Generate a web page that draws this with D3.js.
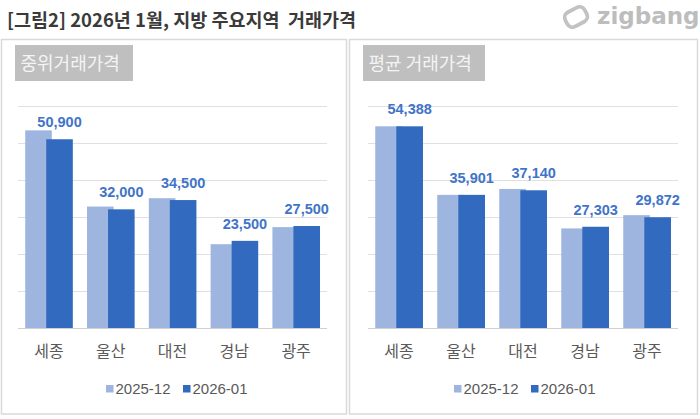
<!DOCTYPE html>
<html><head><meta charset="utf-8">
<script src="https://cdn.jsdelivr.net/npm/d3@7"></script>
<style>body{margin:0;background:#fff;}svg{display:block;}</style>
</head><body>
<svg id="c" width="700" height="419"></svg>
<script>
const categories = ["세종","울산","대전","경남","광주"];
const seriesNames = ["2025-12","2026-01"];
const median2512 = [53300, 32750, 35000, 22600, 27200];
const median2601 = [50900, 32000, 34500, 23500, 27500];
const mean2512 = [54388, 35900, 37500, 26850, 30430];
const mean2601 = [54388, 35901, 37140, 27303, 29872];
const yTicks = [0,10000,20000,30000,40000,50000,60000];
const panelTitles = ["중위거래가격","평균 거래가격"];
const chartTitle = "[그림2] 2026년 1월, 지방 주요지역  거래가격";

const svg = d3.select("#c");
const lightC = "#9DB5DF", darkC = "#316ABF", labelC = "#4174C8";
const korFont = "'Noto Sans CJK KR', 'Noto Sans', sans-serif";

// title
svg.append("text").attr("x",7).attr("y",27).text(chartTitle)
  .style("white-space","pre")
  .attr("font-family",korFont).attr("font-weight","bold").attr("font-size",18.5)
  .attr("fill","#3a3a3a");

// logo
const lg = svg.append("g");
lg.append("rect").attr("x",-11).attr("y",-8).attr("width",22).attr("height",16).attr("rx",6)
  .attr("transform","translate(576,17) rotate(-28)")
  .attr("fill","none").attr("stroke","#c2c2c2").attr("stroke-width",3.8);
lg.append("text").attr("x",597).attr("y",24).text("zigbang")
  .attr("font-family","'DejaVu Sans'").attr("font-weight","bold").attr("font-size",23)
  .attr("fill","#bdbdbd");

const panels = [
  {x0:1, x1:346, px0:18, px1:327, title:panelTitles[0], a:median2512, b:median2601, boxW:118},
  {x0:349, x1:697, px0:368, px1:678, title:panelTitles[1], a:mean2512, b:mean2601, boxW:122}
];

panels.forEach(p=>{
  const g = svg.append("g");
  g.append("rect").attr("x",p.x0+0.5).attr("y",39.5).attr("width",p.x1-p.x0).attr("height",374.5)
    .attr("fill","#fff").attr("stroke","#d9d9d9").attr("stroke-width",1.5);
  g.append("rect").attr("x",p.x0+14).attr("y",45).attr("width",p.boxW).attr("height",36).attr("fill","#bfbfbf");
  g.append("text").attr("x",p.x0+19.5).attr("y",70).text(p.title)
    .attr("font-family",korFont).attr("font-size",18).attr("fill","#f4f4f4");

  const y = d3.scaleLinear().domain([0,60000]).range([328,105.5]);
  const x = d3.scaleBand().domain(categories).range([p.px0,p.px1]).padding(0);
  const bw = x.bandwidth();
  const barW = bw*0.43, pad = bw*0.117, darkOff = bw*0.34;

  g.selectAll(".grid").data(yTicks).join("line")
    .attr("x1",p.px0).attr("x2",p.px1).attr("y1",d=>Math.round(y(d))+0.5).attr("y2",d=>Math.round(y(d))+0.5)
    .attr("stroke",(d)=> d===0 ? "#d0d0d0" : "#e0e0e0").attr("stroke-width",1.2);

  g.selectAll(".ba").data(categories).join("rect")
    .attr("x",(d)=>x(d)+pad).attr("width",barW)
    .attr("y",(d,i)=>y(p.a[i])).attr("height",(d,i)=>y(0)-y(p.a[i]))
    .attr("fill",lightC);
  g.selectAll(".bb").data(categories).join("rect")
    .attr("x",(d)=>x(d)+pad+darkOff).attr("width",barW)
    .attr("y",(d,i)=>y(p.b[i])).attr("height",(d,i)=>y(0)-y(p.b[i]))
    .attr("fill",darkC);
  g.selectAll(".vl").data(categories).join("text")
    .attr("x",(d)=>x(d)+pad+darkOff+barW/2).attr("y",(d,i)=>y(p.b[i])-12)
    .attr("text-anchor","middle").text((d,i)=>d3.format(",")(p.b[i]))
    .attr("font-family","'Liberation Sans', Arial, sans-serif").attr("font-weight","bold")
    .attr("font-size",14.5).attr("fill",labelC);

  const ax = g.append("g").attr("transform","translate(0,357)")
    .call(d3.axisBottom(x).tickSize(0).tickPadding(0));
  ax.select(".domain").remove();
  ax.selectAll("text").attr("dy",0).attr("font-family",korFont).attr("font-size",16).attr("fill","#595959");

  const lx = p.x0 + 105;
  const legend = [{n:seriesNames[0],c:lightC,x:lx},{n:seriesNames[1],c:darkC,x:lx+77}];
  legend.forEach(l=>{
    g.append("rect").attr("x",l.x).attr("y",385).attr("width",7.5).attr("height",7.5).attr("fill",l.c);
    g.append("text").attr("x",l.x+9.5).attr("y",394).text(l.n)
      .attr("font-family","'Liberation Sans', Arial, sans-serif").attr("font-size",15).attr("fill","#595959");
  });
});
</script>
</body></html>
